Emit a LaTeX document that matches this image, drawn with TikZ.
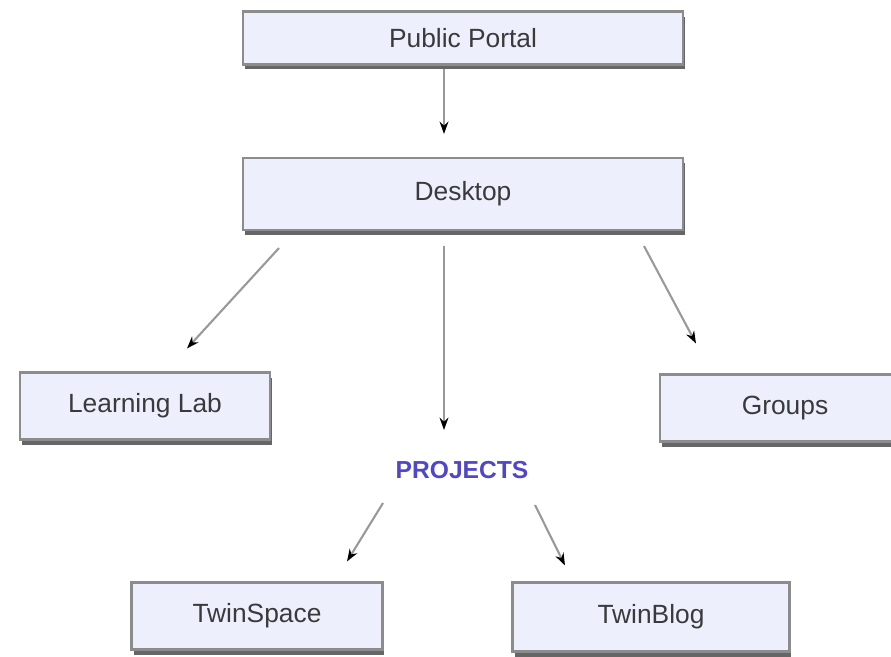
\documentclass[tikz,border=0pt]{standalone}
\usepackage{fontspec}
\setmainfont{Liberation Sans}
\usetikzlibrary{arrows.meta,calc,shadows}
\definecolor{boxfill}{HTML}{EDF0FC}
\definecolor{boxline}{HTML}{8C8C8C}
\definecolor{txtgray}{HTML}{3A3A3A}
\definecolor{prjblue}{HTML}{4F46C8}
\begin{document}
\begin{tikzpicture}[x=0.02cm,y=-0.02cm,
    page/.style={draw=boxline,line width=1.2pt,fill=boxfill,text=txtgray,
        font=\fontsize{15}{17}\selectfont,inner sep=0pt,
        drop shadow={shadow xshift=0.4mm,shadow yshift=-1mm,fill=black!60,opacity=1}},
    link/.style={draw=black!40,line width=1.2pt,-{Stealth[length=7pt,width=5pt,black]}}]
            \useasboundingbox (0,0) rectangle (891,656);
            \node[page,minimum width=8.8cm,minimum height=1.06cm] (pp) at (463,38) {Public Portal};
            \node[page,minimum width=8.8cm,minimum height=1.44cm] (dt) at (463,194) {Desktop};
            \node[page,minimum width=5cm,minimum height=1.34cm] (ll) at (145,406) {Learning Lab};
            \node[page,minimum width=5cm,minimum height=1.34cm] (gr) at (785,408) {Groups};
            \node[font=\fontsize{14}{16}\selectfont\bfseries,text=prjblue] (prj) at (462,470) {PROJECTS};
            \node[page,minimum width=5.02cm,minimum height=1.34cm] (ts) at (257,616) {TwinSpace};
            \node[page,minimum width=5.54cm,minimum height=1.38cm] (tb) at (651,617) {TwinBlog};
            % links between pages
            \draw[link] ($(pp.south)+(-19,3)$) -- ($(dt.north)+(-19,-23)$);
            \draw[link] ($(dt.south west)+(37,17)$) -- ($(ll.north)+(42,-23)$);
            \draw[link] ($(dt.south)+(-19,15)$) -- ($(prj)+(-18,-40)$);
            \draw[link] ($(dt.south east)+(-40,15)$) -- ($(gr.north west)+(37,-30)$);
            \draw[link] ($(prj)+(-79,33)$) -- ($(ts.north)+(90,-20)$);
            \draw[link] ($(prj)+(73,35)$) -- ($(tb.north)+(-86,-16)$);
\end{tikzpicture}
\end{document}
